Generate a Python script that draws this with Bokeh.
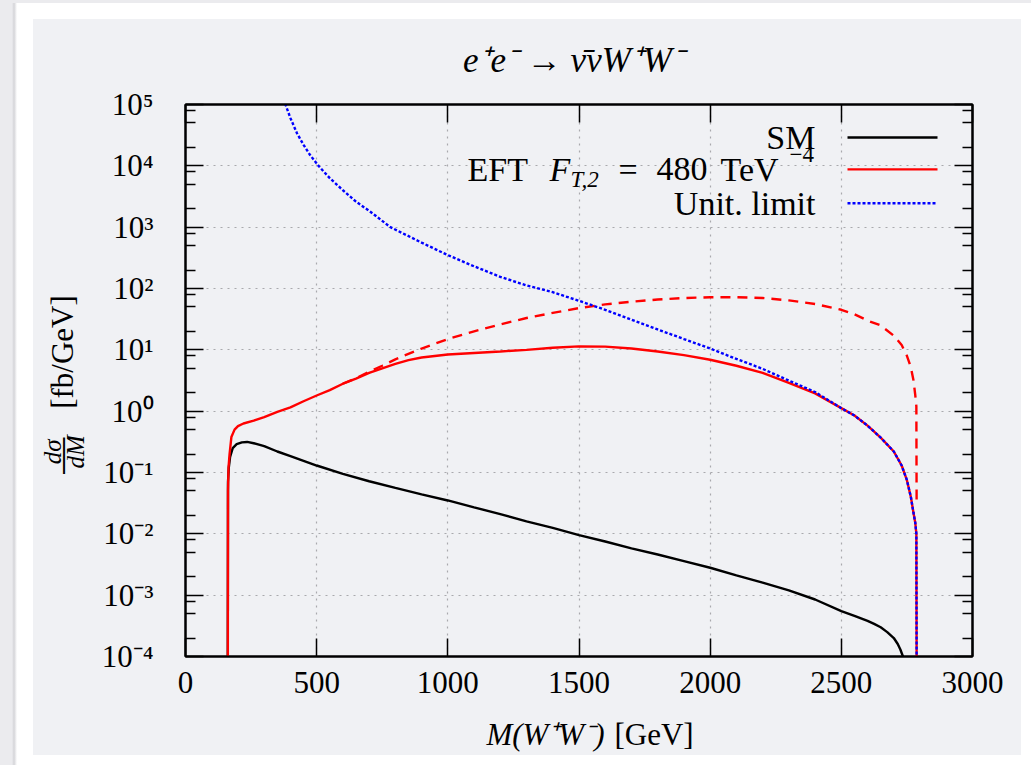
import math

from bokeh.embed import file_html
from bokeh.layouts import column
from bokeh.models import (CustomJSTickFormatter, FixedTicker, Label,
                          LinearAxis, LogAxis, Range1d)
from bokeh.plotting import figure
from bokeh.resources import INLINE

# ---------------------------------------------------------------- data
# invariant mass M(W+W-) in GeV and d(sigma)/dM in fb/GeV
m_sm = [161, 162, 165, 170, 180, 195, 215, 235, 260, 300, 350, 400, 450, 500,
        600, 700, 800, 900, 1000, 1100, 1200, 1300, 1400, 1500, 1600, 1700,
        1800, 1900, 2000, 2100, 2200, 2300, 2400, 2500, 2550, 2600, 2625,
        2650, 2675, 2700, 2715, 2725, 2735, 2745]
dsdm_sm = [2e-5, 0.07, 0.12, 0.18, 0.25, 0.29, 0.31, 0.315, 0.30, 0.27, 0.22,
           0.185, 0.155, 0.13, 0.095, 0.072, 0.056, 0.044, 0.035, 0.027,
           0.021, 0.016, 0.0125, 0.0095, 0.0075, 0.0058, 0.0046, 0.0036,
           0.0028, 0.0021, 0.0016, 0.0012, 0.00085, 0.00055, 0.00046,
           0.00038, 0.00034, 0.0003, 0.00025, 0.0002, 0.00016, 0.00013,
           0.0001, 7e-5]

m_eft = [161, 162, 164, 168, 175, 187, 200, 221, 260, 300, 350, 400, 450, 500,
         550, 600, 650, 700, 750, 800, 850, 900, 1000, 1100, 1200, 1300, 1400,
         1500, 1600, 1700, 1800, 1900, 2000, 2100, 2200, 2300, 2400, 2500,
         2550, 2600, 2650, 2700, 2730, 2750, 2765, 2775, 2782, 2786, 2788]
dsdm_eft = [1e-6, 0.05, 0.12, 0.2, 0.38, 0.5, 0.57, 0.63, 0.7, 0.8, 0.97, 1.15,
            1.45, 1.8, 2.2, 2.8, 3.4, 4.2, 5.0, 5.9, 6.8, 7.5, 8.4, 8.9, 9.4,
            10.0, 10.8, 11.4, 11.3, 10.5, 9.4, 8.2, 6.9, 5.5, 4.2, 2.9, 1.95,
            1.12, 0.85, 0.58, 0.37, 0.22, 0.13, 0.075, 0.04, 0.022, 0.015,
            0.01, 1e-6]

# EFT without unitarity cut (dashed)
m_eft_raw = [600, 650, 700, 750, 800, 900, 1000, 1100, 1200, 1300, 1400, 1500,
             1600, 1700, 1800, 1900, 2000, 2100, 2200, 2300, 2400, 2500, 2550,
             2600, 2650, 2700, 2730, 2750, 2765, 2775, 2782, 2786, 2787]
dsdm_eft_raw = [2.8, 3.45, 4.4, 5.5, 7.0, 10.5, 15, 20, 26, 33, 40, 48, 55, 61,
                66, 70, 72, 72, 70, 64, 56, 45, 38, 30, 25, 17, 12, 8, 5.2,
                3.2, 1.8, 1.2, 0.03]

m_unit = [370, 381, 400, 425, 450, 475, 507, 550, 600, 650, 700, 781, 900,
          1000, 1100, 1200, 1300, 1400, 1500, 1600, 1700, 1800, 1900, 2000,
          2100, 2200, 2300, 2400, 2500, 2550, 2600, 2650, 2700, 2730, 2750,
          2765, 2775, 2782, 2786, 2788]
dsdm_unit = [1.8e5, 1e5, 6e4, 3.4e4, 2.2e4, 1.5e4, 1e4, 6.3e3, 4e3, 2.6e3,
             1.85e3, 1e3, 560, 350, 230, 155, 112, 87, 63, 45, 31, 21.5, 15,
             10.5, 7.1, 4.9, 3.15, 2.05, 1.12, 0.85, 0.58, 0.37, 0.22, 0.13,
             0.075, 0.04, 0.022, 0.015, 0.01, 1e-6]

x_ticks = [0, 500, 1000, 1500, 2000, 2500, 3000]
y_tick_exponents = [-4, -3, -2, -1, 0, 1, 2, 3, 4, 5]
y_tick_labels = ["10⁻⁴", "10⁻³", "10⁻²", "10⁻¹", "10⁰", "10¹", "10²", "10³",
                 "10⁴", "10⁵"]
y_minor_mantissas = [2, 5, 8]

legend_names = ["SM", "EFT", "Unit. limit"]

# ---------------------------------------------------------------- style
PANEL = "#f0f1f4"
SERIF = "Liberation Serif"
FS = "31px"
FS_KEY = "34px"
FS_SMALL = "23px"

# page pixel geometry of the plotting frame
FL, FR, FT, FB = 185, 972, 104, 657
PAGE_W, PAGE_H = 1031, 765
BORDER_B = 110   # x axis plus the two pieces of its title


def data_x(px):
    return (px - FL) / (FR - FL) * 3000.0


def data_y(py):
    return 10.0 ** (-4 + (FB - py) / (FB - FT) * 9.0)


p = figure(width=PAGE_W, height=FB + BORDER_B,
           x_range=Range1d(0, 3000), y_range=Range1d(1e-4, 1e5),
           y_axis_type="log", output_backend="svg", toolbar_location=None,
           min_border_left=FL, min_border_right=PAGE_W - FR,
           min_border_top=FT, min_border_bottom=0,
           background_fill_color=PANEL, border_fill_alpha=0.0,
           outline_line_color="black", outline_line_width=2)

xt = FixedTicker(ticks=x_ticks, minor_ticks=[])
yt = FixedTicker(ticks=[10.0 ** e for e in y_tick_exponents],
                 minor_ticks=[m * 10.0 ** e for e in y_tick_exponents[:-1]
                              for m in y_minor_mantissas])
ylab = CustomJSTickFormatter(
    args=dict(labels=y_tick_labels, lo=y_tick_exponents[0]),
    code="return labels[Math.round(Math.log10(tick)) - lo];")
blank = CustomJSTickFormatter(code="return '';")


def style_axis(ax, ticker):
    ax.ticker = ticker
    ax.axis_line_color = "black"
    ax.axis_line_width = 2
    ax.major_tick_in = 18
    ax.major_tick_out = 0
    ax.minor_tick_in = 10
    ax.minor_tick_out = 0
    ax.major_tick_line_color = "black"
    ax.minor_tick_line_color = "black"
    ax.major_tick_line_width = 1.5
    ax.minor_tick_line_width = 1.5
    ax.major_label_text_font = SERIF
    ax.major_label_text_font_size = FS
    ax.major_label_text_color = "black"


xb = p.xaxis[0]
style_axis(xb, xt)
xb.major_label_standoff = 15

yl = p.yaxis[0]
style_axis(yl, yt)
yl.formatter = ylab
yl.major_label_standoff = 32

xa = LinearAxis()
style_axis(xa, xt)
xa.formatter = blank
xa.major_label_standoff = 0
p.add_layout(xa, "above")

yr = LogAxis()
style_axis(yr, yt)
yr.formatter = blank
yr.major_label_standoff = 0
p.add_layout(yr, "right")

p.xgrid.ticker = xt
p.ygrid.ticker = yt
for g in (p.xgrid[0], p.ygrid[0]):
    g.grid_line_color = "#a9a9ad"
    g.grid_line_width = 1.2
    g.grid_line_dash = "2 5"

# ---------------------------------------------------------------- curves
p.line(m_sm, dsdm_sm, line_color="black", line_width=2.4)
p.line(m_eft_raw, dsdm_eft_raw, line_color="#ff0000", line_width=2.4,
       line_dash="10 7")
p.line(m_eft, dsdm_eft, line_color="#ff0000", line_width=2.4)
p.line(m_unit, dsdm_unit, line_color="#0000ff", line_width=2.4,
       line_dash="3 2")

# ---------------------------------------------------------------- key
key_rows = [137, 169, 203]
key_styles = [dict(line_color="black"),
              dict(line_color="#ff0000"),
              dict(line_color="#0000ff", line_dash="3 2")]
for row, st in zip(key_rows, key_styles):
    p.segment(x0=[data_x(847)], y0=[data_y(row)], x1=[data_x(937)],
              y1=[data_y(row)], line_width=2.4, **st)


def lab(text, px, py, size=FS_KEY, style="normal", align="left", angle=0.0,
        place="center"):
    p.add_layout(Label(x=data_x(px), y=data_y(py), text=text,
                       text_font=SERIF, text_font_size=size,
                       text_font_style=style, text_align=align,
                       text_baseline="middle", text_color="black",
                       angle=angle), place)


lab(legend_names[0], 815, key_rows[0], align="right")
lab(legend_names[1], 467, key_rows[1])
lab("F", 549, key_rows[1], style="italic")
lab("T,2", 570, key_rows[1] + 10, size=FS_SMALL, style="italic")
lab("=", 618, key_rows[1])
lab("480", 656, key_rows[1])
lab("TeV", 720, key_rows[1])
lab("−4", 789, key_rows[1] - 15, size=FS_SMALL)
lab(legend_names[2], 815, key_rows[2], align="right")

# ---------------------------------------------------------------- titles
lab("e⁺e⁻ → ν̄νW⁺W⁻", 573, 60, size="35px", style="italic", align="center",
    place="above")
lab("M(W⁺W⁻)", 604, 735, size=FS, style="italic", align="right",
    place="below")
lab("[GeV]", 614, 735, size=FS, place="below")

half_pi = math.pi / 2
lab("[fb/GeV]", 62, 352, size=FS, align="center", angle=half_pi,
    place="left")
lab("dσ", 52, 452, size="25px", style="italic", align="center",
    angle=half_pi, place="left")
lab("dM", 75, 452, size="25px", style="italic", align="center",
    angle=half_pi, place="left")
lab("|", 63.5, 452, size="40px", align="center", place="right")

page = column(p, width=PAGE_W, height=PAGE_H, styles={
    "overflow": "hidden",
    "background": (
        "linear-gradient(#f0f1f4, #f0f1f4) 33px 19px / 988px 736px no-repeat, "
        "linear-gradient(#ebebee, #ebebee) 0px 0px / 100% 3px no-repeat, "
        "linear-gradient(to right, #ebebee 0px, #ebebee 12px, #d4d4d8 14px, "
        "#ffffff 17px) 0px 0px / 100% 100% no-repeat, #ffffff")})

open("out.html", "w").write(file_html(page, INLINE))
